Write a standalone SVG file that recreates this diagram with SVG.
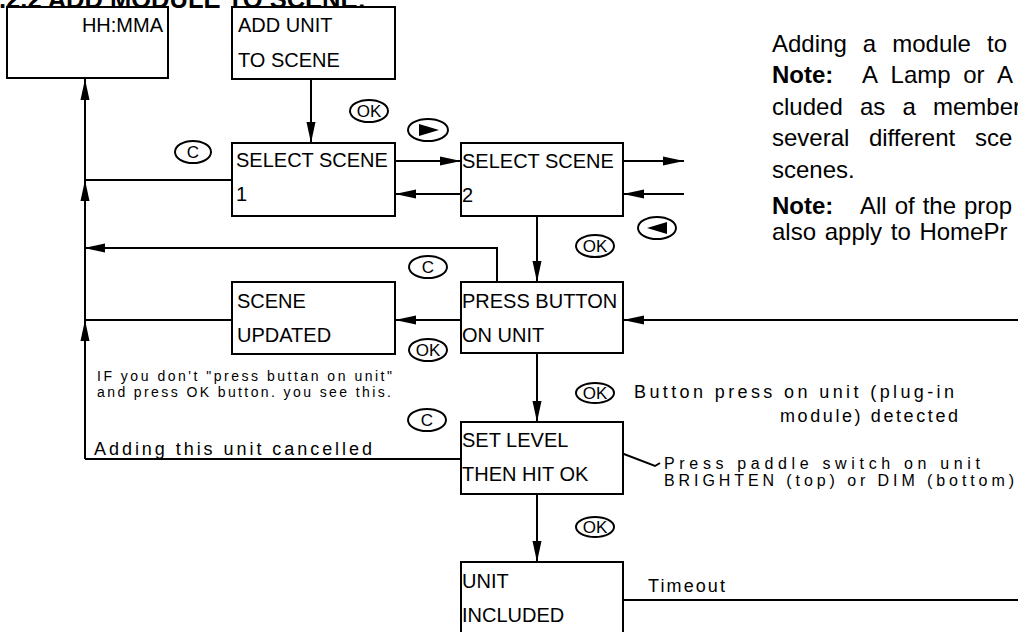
<svg xmlns="http://www.w3.org/2000/svg" width="1018" height="632" viewBox="0 0 1018 632">
<defs>
<style>
.box{fill:#fff;stroke:#000;stroke-width:2}
.ln{fill:none;stroke:#000;stroke-width:2}
.arr{marker-end:url(#ah)}
.t{font-family:"Liberation Sans",Arial,sans-serif;font-size:20px;fill:#000}
.s{font-family:"Liberation Sans",Arial,sans-serif;font-size:18px;fill:#000}
.m{font-family:"Liberation Sans",Arial,sans-serif;font-size:16px;fill:#000}
.x{font-family:"Liberation Sans",Arial,sans-serif;font-size:14px;fill:#000}
.btn ellipse{fill:#fff;stroke:#000;stroke-width:2}
.btn text{font-family:"Liberation Sans",Arial,sans-serif;font-size:17px;text-anchor:middle;fill:#000}
.p{font-family:"Liberation Sans",Arial,sans-serif;font-size:24px;fill:#000}
.b{font-weight:bold}
</style>
<marker id="ah" markerUnits="userSpaceOnUse" markerWidth="22" markerHeight="12" refX="21" refY="6" orient="auto"><path d="M0,1.5 L21,6 L0,10.5 z" fill="#000"/></marker>
</defs>
<rect width="1018" height="632" fill="#fff"/>
<text x="366" y="7.5" text-anchor="end" font-family="Liberation Sans, Arial, sans-serif" font-weight="bold" font-size="25.5">.2.2 ADD MODULE TO SCENE:</text>

<g id="connectors">
<path class="ln arr" d="M311,79 V143"/>
<path class="ln arr" d="M395,161 H461"/>
<path class="ln arr" d="M461,194 H395"/>
<path class="ln arr" d="M623,161 H684"/>
<path class="ln arr" d="M684,194 H623"/>
<path class="ln arr" d="M537,216 V282"/>
<path class="ln arr" d="M497,282 V248 H84"/>
<path class="ln arr" d="M461,320 H395"/>
<path class="ln" d="M232,320 H85"/>
<path class="ln" d="M232,180 H85"/>
<path class="ln" d="M461,459 H85"/>
<path class="ln arr" d="M85,459 V320"/>
<path class="ln arr" d="M85,320 V180"/>
<path class="ln arr" d="M85,180 V79"/>
<path class="ln arr" d="M537,353 V422"/>
<path class="ln arr" d="M537,494 V562"/>
<path class="ln arr" d="M1018,320 H623"/>
<path class="ln" d="M623,600 H1018"/>
<path class="ln" d="M603,446 L655,466 L660,463"/>
</g>

<g id="node-clock">
<rect class="box" x="7" y="7" width="161" height="71"/>
<text class="t" x="163" y="32" font-size="16" text-anchor="end">HH:MMA</text>
</g>
<g id="node-add-unit">
<rect class="box" x="232" y="7" width="163" height="72"/>
<text class="t" x="238" y="32">ADD UNIT</text>
<text class="t" x="238" y="67">TO SCENE</text>
</g>
<g id="node-select-1">
<rect class="box" x="232" y="143" width="163" height="73"/>
<text class="t" x="236" y="167">SELECT SCENE</text>
<text class="t" x="236" y="201">1</text>
</g>
<g id="node-select-2">
<rect class="box" x="461" y="143" width="162" height="73"/>
<text class="t" x="462" y="168">SELECT SCENE</text>
<text class="t" x="462" y="202">2</text>
</g>
<g id="node-press-button">
<rect class="box" x="461" y="282" width="162" height="71"/>
<text class="t" x="462" y="308">PRESS BUTTON</text>
<text class="t" x="462" y="342">ON UNIT</text>
</g>
<g id="node-scene-updated">
<rect class="box" x="232" y="282" width="163" height="72"/>
<text class="t" x="237" y="308">SCENE</text>
<text class="t" x="237" y="342">UPDATED</text>
</g>
<g id="node-set-level">
<rect class="box" x="461" y="422" width="162" height="72"/>
<text class="t" x="462" y="447">SET LEVEL</text>
<text class="t" x="462" y="481">THEN HIT OK</text>
</g>
<g id="node-unit-included">
<rect class="box" x="461" y="562" width="162" height="80"/>
<text class="t" x="462" y="588">UNIT</text>
<text class="t" x="462" y="622">INCLUDED</text>
</g>

<g id="buttons">
<g class="btn"><ellipse cx="193" cy="152" rx="18" ry="11"/><text x="193" y="158">C</text></g>
<g class="btn"><ellipse cx="369" cy="111" rx="19" ry="11"/><text x="369" y="117">OK</text></g>
<g class="btn"><ellipse cx="428" cy="130" rx="20" ry="11"/><path d="M419,124 L439,130 L419,136 z" fill="#000"/></g>
<g class="btn"><ellipse cx="657" cy="228" rx="19" ry="11"/><path d="M667,222 L647,228 L667,234 z" fill="#000"/></g>
<g class="btn"><ellipse cx="595" cy="246" rx="19" ry="11"/><text x="595" y="252">OK</text></g>
<g class="btn"><ellipse cx="428" cy="267" rx="19" ry="11"/><text x="428" y="273">C</text></g>
<g class="btn"><ellipse cx="428" cy="350" rx="19" ry="11"/><text x="428" y="356">OK</text></g>
<g class="btn"><ellipse cx="427" cy="420" rx="19" ry="11"/><text x="427" y="426">C</text></g>
<g class="btn"><ellipse cx="595" cy="393" rx="19" ry="10"/><text x="595" y="399">OK</text></g>
<g class="btn"><ellipse cx="595" cy="527" rx="19" ry="10"/><text x="595" y="533">OK</text></g>
</g>

<g id="notes">
<text class="x" x="97" y="381" textLength="295" lengthAdjust="spacing">IF you don't "press buttan on unit"</text>
<text class="x" x="97" y="397" textLength="294" lengthAdjust="spacing">and press OK button. you see this.</text>
<text class="s" x="94" y="455" textLength="278" lengthAdjust="spacing">Adding this unit cancelled</text>
<text class="s" x="634" y="398" textLength="320" lengthAdjust="spacing">Button press on unit (plug-in</text>
<text class="s" x="780" y="422" textLength="178" lengthAdjust="spacing">module) detected</text>
<text class="m" x="664" y="469" textLength="316" lengthAdjust="spacing">Press paddle switch on unit</text>
<text class="m" x="664" y="486" textLength="350" lengthAdjust="spacing">BRIGHTEN (top) or DIM (bottom)</text>
<text class="s" x="648" y="592" textLength="77" lengthAdjust="spacing">Timeout</text>
</g>

<g id="description">
<text class="p" y="52"><tspan x="772">Adding</tspan><tspan x="862.8">a</tspan><tspan x="892.2">module</tspan><tspan x="987">to</tspan></text>
<text class="p" y="83"><tspan x="772" class="b">Note:</tspan><tspan x="862">A</tspan><tspan x="890.6">Lamp</tspan><tspan x="963.2">or</tspan><tspan x="997">A</tspan></text>
<text class="p" y="115"><tspan x="772">cluded</tspan><tspan x="859.9">as</tspan><tspan x="902.4">a</tspan><tspan x="933">member</tspan></text>
<text class="p" y="146"><tspan x="772">several</tspan><tspan x="868.9">different</tspan><tspan x="975">sce</tspan></text>
<text class="p" y="178"><tspan x="772">scenes.</tspan></text>
<text class="p" y="214"><tspan x="772" class="b">Note:</tspan><tspan x="860">All</tspan><tspan x="894.7">of</tspan><tspan x="922.7">the</tspan><tspan x="964">prop</tspan></text>
<text class="p" y="240" x="772" word-spacing="2">also apply to HomePr</text>
</g>
</svg>
